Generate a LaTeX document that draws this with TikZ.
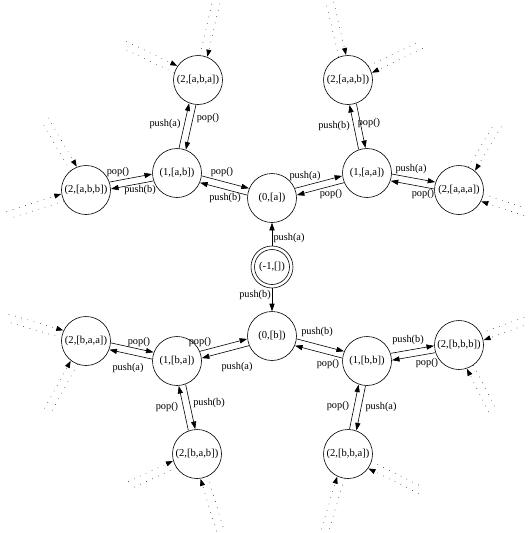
\documentclass[tikz,border=0pt]{standalone}
\usepackage{fontspec}
\setmainfont{Liberation Serif}
\usetikzlibrary{arrows.meta,calc}

% transition drawn as one of a pair of parallel arrows, offset to the left of travel,
% with its label node placed beside it
\newcommand\pairarc[5]{%
  \draw[trans] ($($(#1)!24.8pt!(#2)$)!3.5pt!90:(#2)$) --
    ($($(#2)!24.8pt!(#1)$)!3.5pt!-90:(#1)$);
  \node[lbl] (#5) at (#4) {#3};}
% dotted continuation: incoming arrow and outgoing line towards an outer point
\newcommand\dotpair[2]{%
  \draw[dots,-{Triangle[length=7pt,width=5pt]}] ($(#2)!3.8pt!90:(#1)$) --
    ($($(#1)!24.8pt!(#2)$)!3.8pt!-90:(#2)$);
  \draw[dots] ($($(#1)!24.8pt!(#2)$)!3.8pt!90:(#2)$) --
    ($(#2)!3.8pt!-90:(#1)$);}

\begin{document}
\begin{tikzpicture}[x=1pt,y=-1pt,
  state/.style={circle,draw,line width=0.6pt,minimum size=49pt,inner sep=0pt,
    font=\fontsize{10.6}{12}\selectfont},
  ststyle/.style={circle,draw,line width=0.6pt,minimum size=42pt,inner sep=0pt,
    font=\fontsize{10.6}{12}\selectfont},
  trans/.style={line width=0.6pt,-{Triangle[length=7.5pt,width=5.2pt]}},
  lbl/.style={font=\fontsize{10.3}{12}\selectfont,inner sep=0pt},
  dots/.style={line width=0.75pt,dash pattern=on 0.01pt off 6.5pt,line cap=round}]
\useasboundingbox (0,0) rectangle (529,533);

% states
\node[ststyle] (s) at (272,267) {(-1,[])};
\draw[line width=0.6pt] (s.center) circle[radius=17.5];
\node[state] (a)   at (272,198) {(0,[a])};
\node[state] (b)   at (272,336) {(0,[b])};
\node[state] (aa)  at (367,173) {(1,[a,a])};
\node[state] (ab)  at (177,173) {(1,[a,b])};
\node[state] (ba)  at (177,361) {(1,[b,a])};
\node[state] (bb)  at (367,361) {(1,[b,b])};
\node[state] (aaa) at (459,190) {(2,[a,a,a])};
\node[state] (aab) at (348,80)  {(2,[a,a,b])};
\node[state] (aba) at (198,80)  {(2,[a,b,a])};
\node[state] (abb) at (86,190)  {(2,[a,b,b])};
\node[state] (baa) at (86,341)  {(2,[b,a,a])};
\node[state] (bab) at (197,454) {(2,[b,a,b])};
\node[state] (bba) at (348,454) {(2,[b,b,a])};
\node[state] (bbb) at (459,345) {(2,[b,b,b])};

% transitions from the initial state
\draw[trans] (s) -- (a);
\node[lbl] (l0a) at (289,238) {push(a)};
\draw[trans] (s) -- (b);
\node[lbl] (l0b) at (255,295) {push(b)};

% push / pop pairs
\pairarc{a}{aa}{push(a)}{305,176}{l1}
\pairarc{aa}{a}{pop()}{331,194}{l2}
\pairarc{aa}{aaa}{push(a)}{411,169}{l3}
\pairarc{aaa}{aa}{pop()}{423,194}{l4}
\pairarc{aa}{aab}{push(b)}{334,126}{l5}
\pairarc{aab}{aa}{pop()}{369,123}{l6}
\pairarc{a}{ab}{push(b)}{225,198}{l7}
\pairarc{ab}{a}{pop()}{222,172}{l8}
\pairarc{ab}{aba}{push(a)}{165,124}{l9}
\pairarc{aba}{ab}{pop()}{208,118}{l10}
\pairarc{ab}{abb}{push(b)}{140,190}{l11}
\pairarc{abb}{ab}{pop()}{118,172}{l12}
\pairarc{b}{bb}{push(b)}{317,332}{l13}
\pairarc{bb}{b}{pop()}{328,364}{l14}
\pairarc{bb}{bbb}{push(b)}{408,340}{l15}
\pairarc{bbb}{bb}{pop()}{427,363}{l16}
\pairarc{bb}{bba}{push(a)}{381,407}{l17}
\pairarc{bba}{bb}{pop()}{338,406}{l18}
\pairarc{b}{ba}{push(a)}{237,367}{l19}
\pairarc{ba}{b}{pop()}{200,342}{l20}
\pairarc{ba}{baa}{push(a)}{128,368}{l21}
\pairarc{baa}{ba}{pop()}{139,342}{l22}
\pairarc{ba}{bab}{push(b)}{209,403}{l23}
\pairarc{bab}{ba}{pop()}{167,407}{l24}

% outer continuation points
\coordinate (o1)  at (216,3);
\coordinate (o2)  at (125,45);
\coordinate (o3)  at (330,3);
\coordinate (o4)  at (421,45);
\coordinate (o5)  at (498,125);
\coordinate (o6)  at (525,212);
\coordinate (o7)  at (45,120);
\coordinate (o8)  at (8,215);
\coordinate (o9)  at (8,318);
\coordinate (o10) at (48,410);
\coordinate (o11) at (130,485);
\coordinate (o12) at (220,530);
\coordinate (o13) at (325,530);
\coordinate (o14) at (420,490);
\coordinate (o15) at (528,320);
\coordinate (o16) at (492,410);

\dotpair{aba}{o1}
\dotpair{aba}{o2}
\dotpair{aab}{o3}
\dotpair{aab}{o4}
\dotpair{aaa}{o5}
\dotpair{aaa}{o6}
\dotpair{abb}{o7}
\dotpair{abb}{o8}
\dotpair{baa}{o9}
\dotpair{baa}{o10}
\dotpair{bab}{o11}
\dotpair{bab}{o12}
\dotpair{bba}{o13}
\dotpair{bba}{o14}
\dotpair{bbb}{o15}
\dotpair{bbb}{o16}
\end{tikzpicture}
\end{document}
